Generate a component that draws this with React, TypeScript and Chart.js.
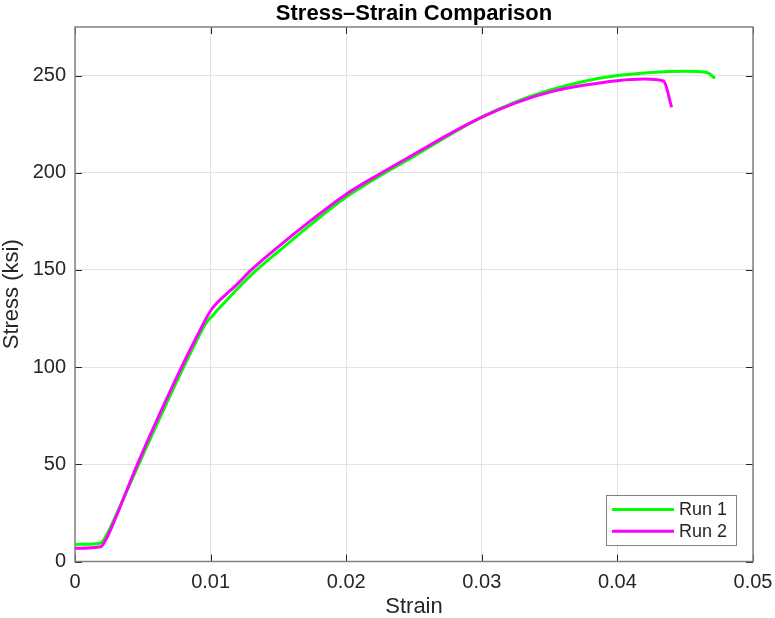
import React, { useEffect, useRef } from "react";
import { Chart, registerables } from "chart.js";

Chart.register(...registerables);

// Axis ticks
const strainTicks = [0, 0.01, 0.02, 0.03, 0.04, 0.05];
const stressTicks = [0, 50, 100, 150, 200, 250];

// Run 1 test record (strain, stress in ksi)
const run1Strain = [
  0, 0.0018, 0.0021, 0.0025, 0.003, 0.0047, 0.0075, 0.009, 0.0096, 0.0102,
  0.011, 0.012, 0.013, 0.015, 0.0175, 0.02, 0.0225, 0.025, 0.0275, 0.03,
  0.0325, 0.035, 0.0375, 0.04, 0.0425, 0.045, 0.0466, 0.0472,
];
const run1Stress = [
  8.8, 9.3, 11, 16, 23.5, 50, 92.5, 114, 122, 127,
  133, 140.5, 147.5, 159.5, 174, 187.5, 198.5, 208.5, 219, 228.6,
  236.5, 242.5, 247, 250, 251.6, 252.2, 251.6, 248.6,
];

// Run 2 test record (strain, stress in ksi)
const run2Strain = [
  0, 0.0019, 0.0024, 0.003, 0.0046, 0.0074, 0.009, 0.01, 0.0104, 0.011,
  0.012, 0.013, 0.015, 0.0175, 0.02, 0.0225, 0.025, 0.0275, 0.03, 0.0325,
  0.035, 0.0375, 0.04, 0.042, 0.0434, 0.044,
];
const run2Stress = [
  6.8, 7.6, 13, 22.5, 50, 93.3, 116, 129, 132.5, 136.5,
  143, 150, 162, 176, 189, 199.5, 209.5, 219.5, 228.6, 236,
  241.5, 245, 247.4, 248.2, 247.2, 233.7,
];

const seriesLabels = ["Run 1", "Run 2"];
const seriesColors = ["#00ff00", "#ff00ff"];

const FONT = "'Liberation Sans', Arial, Helvetica, sans-serif";
const TEXT = "#262626";

const toPoints = (xs: number[], ys: number[]) => xs.map((x, i) => ({ x, y: ys[i] }));

// Box around the plot area plus inward tick marks on all four sides
const axesFrame = {
  id: "axesFrame",
  beforeDatasetsDraw(chart: any) {
    const { ctx, chartArea: a, scales } = chart;
    const len = 7;
    ctx.save();
    ctx.strokeStyle = TEXT;
    ctx.lineWidth = 1;
    ctx.beginPath();
    for (const v of strainTicks) {
      const px = Math.round(scales.x.getPixelForValue(v)) + 0.5;
      ctx.moveTo(px, a.bottom);
      ctx.lineTo(px, a.bottom - len);
      ctx.moveTo(px, a.top);
      ctx.lineTo(px, a.top + len);
    }
    for (const v of stressTicks) {
      const py = Math.round(scales.y.getPixelForValue(v)) + 0.5;
      ctx.moveTo(a.left, py);
      ctx.lineTo(a.left + len, py);
      ctx.moveTo(a.right, py);
      ctx.lineTo(a.right - len, py);
    }
    ctx.stroke();
    ctx.strokeStyle = "#808080";
    ctx.lineWidth = 1.5;
    ctx.strokeRect(a.left, a.top, a.right - a.left, a.bottom - a.top);
    ctx.restore();
  },
};

// Boxed legend in the lower-right corner of the plot area
const cornerLegend = {
  id: "cornerLegend",
  afterDraw(chart: any) {
    const { ctx, chartArea: a } = chart;
    const w = 130;
    const h = 50;
    const x0 = a.right - 17 - w;
    const y0 = a.bottom - 16.5 - h;
    ctx.save();
    ctx.fillStyle = "#ffffff";
    ctx.fillRect(x0, y0, w, h);
    ctx.strokeStyle = "#808080";
    ctx.lineWidth = 1;
    ctx.strokeRect(x0 + 0.5, y0 + 0.5, w, h);
    ctx.font = `18px ${FONT}`;
    ctx.textBaseline = "middle";
    ctx.textAlign = "left";
    chart.data.datasets.forEach((ds: any, i: number) => {
      const y = y0 + 14.5 + i * 21.7;
      ctx.strokeStyle = ds.borderColor;
      ctx.lineWidth = 3;
      ctx.beginPath();
      ctx.moveTo(x0 + 6, y);
      ctx.lineTo(x0 + 68, y);
      ctx.stroke();
      ctx.fillStyle = TEXT;
      ctx.fillText(ds.label, x0 + 73, y + 0.5);
    });
    ctx.restore();
  },
};

export default function App() {
  const canvasRef = useRef<HTMLCanvasElement | null>(null);

  useEffect(() => {
    document.body.style.margin = "0";
    const canvas = canvasRef.current;
    if (!canvas) return;
    const chart = new Chart(canvas, {
      type: "line",
      data: {
        datasets: [
          {
            label: seriesLabels[0],
            data: toPoints(run1Strain, run1Stress),
            borderColor: seriesColors[0],
            backgroundColor: seriesColors[0],
            borderWidth: 3,
            pointRadius: 0,
            cubicInterpolationMode: "monotone",
            order: 1,
          },
          {
            label: seriesLabels[1],
            data: toPoints(run2Strain, run2Stress),
            borderColor: seriesColors[1],
            backgroundColor: seriesColors[1],
            borderWidth: 3,
            pointRadius: 0,
            cubicInterpolationMode: "monotone",
            order: 0,
          },
        ],
      },
      options: {
        animation: false,
        responsive: false,
        devicePixelRatio: 1,
        layout: { padding: { left: 0, right: 22, top: 0, bottom: 0 } },
        plugins: {
          legend: { display: false },
          tooltip: { enabled: false },
          title: {
            display: true,
            fullSize: false,
            text: "Stress–Strain Comparison",
            color: "#000000",
            font: { family: FONT, size: 22, weight: "bold", lineHeight: 1.2 },
            padding: { top: 0.3, bottom: 0.3 },
          },
        },
        scales: {
          x: {
            type: "linear",
            min: 0,
            max: 0.05,
            afterBuildTicks: (s: any) => {
              s.ticks = strainTicks.map((value) => ({ value }));
            },
            afterFit: (s: any) => {
              s.height = 56.5;
              s.paddingLeft = 0;
              s.paddingRight = 0;
            },
            grid: { color: "#e2e2e2", lineWidth: 1, drawTicks: false },
            border: { display: false },
            ticks: {
              color: TEXT,
              font: { family: FONT, size: 20 },
              padding: 9,
              maxRotation: 0,
              callback: (v: any) => String(v),
            },
            title: {
              display: true,
              text: "Strain",
              color: TEXT,
              font: { family: FONT, size: 22, lineHeight: 1 },
              padding: 0,
            },
          },
          y: {
            type: "linear",
            min: 0,
            max: 275,
            afterBuildTicks: (s: any) => {
              s.ticks = stressTicks.map((value) => ({ value }));
            },
            afterFit: (s: any) => {
              s.width = 75;
              s.paddingTop = 0;
              s.paddingBottom = 0;
            },
            grid: { color: "#e2e2e2", lineWidth: 1, drawTicks: false },
            border: { display: false },
            ticks: {
              color: TEXT,
              font: { family: FONT, size: 20 },
              padding: 9,
              callback: (v: any) => String(v),
            },
            title: {
              display: true,
              text: "Stress (ksi)",
              color: TEXT,
              font: { family: FONT, size: 22, lineHeight: 1.05 },
              padding: 0,
            },
          },
        },
      },
      plugins: [axesFrame, cornerLegend],
    } as any);
    return () => chart.destroy();
  }, []);

  return (
    <div style={{ width: 775, height: 618 }}>
      <canvas ref={canvasRef} width={775} height={618} style={{ display: "block" }} />
    </div>
  );
}
